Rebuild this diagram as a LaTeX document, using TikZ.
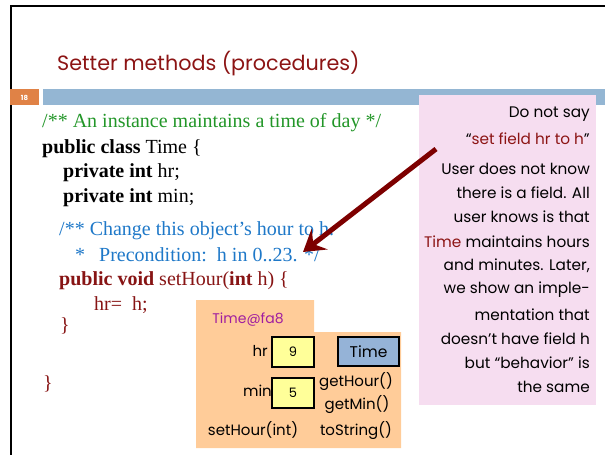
\documentclass[tikz,border=0pt]{standalone}
\usepackage{fontspec}
\setmainfont{Liberation Serif}
\newfontfamily\gothic{Poppins}
\usetikzlibrary{arrows.meta}
\definecolor{codegreen}{RGB}{34,150,40}
\definecolor{codeblue}{RGB}{30,120,200}
\definecolor{codered}{RGB}{135,20,20}
\definecolor{titlered}{RGB}{140,20,20}
\definecolor{arrowred}{RGB}{125,0,0}
\definecolor{notepink}{RGB}{246,221,240}
\definecolor{objorange}{RGB}{255,204,153}
\definecolor{cellyellow}{RGB}{255,255,153}
\definecolor{classblue}{RGB}{149,179,215}
\definecolor{barblue}{RGB}{148,182,211}
\definecolor{numorange}{RGB}{224,130,70}
\definecolor{objpurple}{RGB}{160,30,160}
\tikzset{
  codeline/.style={anchor=base west, inner sep=0pt, font=\fontsize{20}{22}\selectfont},
  noteline/.style={anchor=base east, inner sep=0pt, font=\gothic\fontsize{15.3}{18}\selectfont},
  objlabel/.style={inner sep=0pt, font=\gothic\fontsize{15}{17}\selectfont},
  cell/.style={draw=black, line width=2pt, fill=cellyellow, minimum width=42pt, minimum height=30pt, inner sep=0pt, font=\gothic\fontsize{13}{15}\selectfont},
  classbox/.style={draw=black, line width=2pt, fill=classblue, minimum width=61pt, minimum height=29pt, inner sep=0pt, font=\gothic\fontsize{15.5}{17}\selectfont},
  bigarrow/.style={draw=arrowred, line width=5pt, -{Stealth[length=21pt,width=26pt,inset=8pt]}}
}
\begin{document}
\begin{tikzpicture}[x=1pt,y=-1pt]
\useasboundingbox (0,0) rectangle (605,455);
% frame
\draw[line width=2.5pt] (605,6) -- (11,6) -- (11,455);
% title
\node[anchor=base west, inner sep=0pt, text=titlered, font=\gothic\fontsize{20.7}{24}\selectfont] (title) at (57,70) {Setter methods (procedures)};
% bar
\fill[numorange] (10,89) rectangle (39,105);
\node[text=white, font=\gothic\bfseries\fontsize{7}{8}\selectfont, inner sep=0pt] (num) at (24.5,97.5) {18};
\fill[barblue] (43,89) rectangle (605,105);
% pink note
\fill[notepink] (419,95) rectangle (596,405);
\node[noteline] (p1) at (590,117) {Do not say};
\node[noteline] (p2) at (590,144) {“\textcolor{titlered}{set field hr to h}”};
\node[noteline] (p3) at (590,174) {User does not know};
\node[noteline] (p4) at (590,198) {there is a field. All};
\node[noteline] (p5) at (590,222) {user knows is that};
\node[noteline] (p6) at (590,247) {\textcolor{titlered}{Time} maintains hours};
\node[noteline] (p7) at (590,270) {and minutes. Later,};
\node[noteline] (p8) at (590,293) {we show an imple-};
\node[noteline] (p9) at (590,320) {mentation that};
\node[noteline] (p10) at (590,344) {doesn’t have field h};
\node[noteline] (p11) at (590,368) {but “behavior” is};
\node[noteline] (p12) at (590,392) {the same};
% code
\node[codeline, text=codegreen] (c1) at (42,127) {/** An instance maintains a time of day */};
\node[codeline] (c2) at (42,153) {\textbf{public class} Time \{};
\node[codeline] (c3) at (63,177) {\textbf{private int} hr;};
\node[codeline] (c4) at (63,202) {\textbf{private int} min;};
\node[codeline, text=codeblue] (c5) at (59,235) {/** Change this object’s hour to h.};
\node[codeline, text=codeblue] (c6) at (75,261) {*};
\node[codeline, text=codeblue] (c6b) at (99,261) {Precondition:\ \ h in 0..23. */};
\node[codeline, text=codered] (c7) at (59,285) {\textbf{public void} setHour(\textbf{int} h) \{};
\node[codeline, text=codered] (c8) at (94,310) {hr=\ \ h;};
\node[codeline, text=codered] (c9) at (60,331) {\}};
\node[codeline, text=codered] (c10) at (43,389) {\}};
% arrow
\coordinate (astart) at (436,149);
\coordinate (atip) at (303,252);
\draw[bigarrow] (astart) -- (atip);
% object
\fill[objorange] (196,300) -- (314,300) -- (314,332) -- (401,332) -- (401,448) -- (196,448) -- cycle;
\node[objlabel, text=objpurple, font=\gothic\fontsize{14}{16}\selectfont] (oname) at (248,320) {Time@fa8};
\node[cell] (hrcell) at (293,352) {9};
\node[objlabel, anchor=east] (hrlab) at (268,351) {hr};
\node[cell] (mincell) at (293,393) {5};
\node[objlabel, anchor=east] (minlab) at (272,391) {min};
\node[classbox] (cls) at (368.5,351.5) {Time};
\node[objlabel] (m1) at (356,382) {getHour()};
\node[objlabel] (m2) at (357,405) {getMin()};
\node[objlabel] (m3) at (356,431) {toString()};
\node[objlabel] (m4) at (253,430) {setHour(int)};
\end{tikzpicture}
\end{document}
